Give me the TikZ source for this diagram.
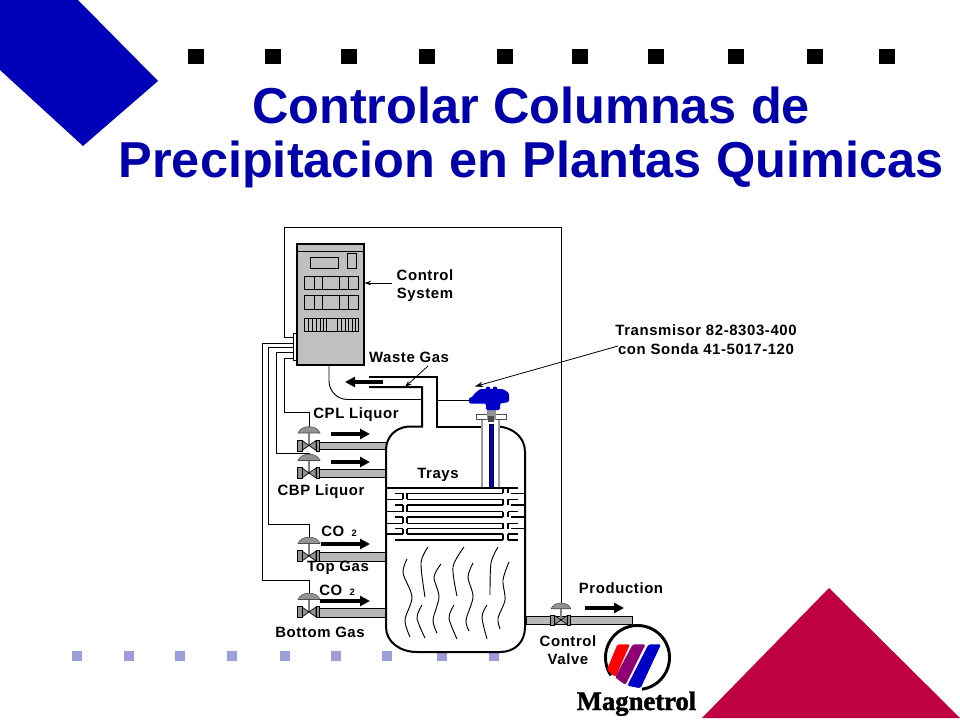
\documentclass[tikz,border=0pt]{standalone}
\usepackage{fontspec}
\setmainfont{Liberation Sans}
\newfontfamily\labfont[LetterSpace=4]{Liberation Sans}
\newfontfamily\logofont[BoldFeatures={FakeBold=1.6}]{Liberation Serif}
\usetikzlibrary{arrows.meta}
\definecolor{titleblue}{RGB}{0,0,170}
\definecolor{cornerblue}{RGB}{0,0,185}
\definecolor{cornerred}{RGB}{191,0,65}
\definecolor{dotblue}{RGB}{156,156,216}
\definecolor{pipegray}{RGB}{184,184,184}
\definecolor{cabgray}{RGB}{192,192,192}
\definecolor{headblue}{RGB}{0,0,200}
\tikzset{
  x=0.75pt,y=-0.75pt,
  thin line/.style={line width=0.7pt,black},
  wall/.style={line width=1.5pt,black},
  lab/.style={font=\labfont\fontsize{11.2}{12}\selectfont\bfseries,inner sep=0pt,text=black},
  titletext/.style={font=\fontsize{37.85}{40}\selectfont\bfseries,inner sep=0pt,text=titleblue,anchor=base},
  flow/.style={line width=3pt,-{Triangle[length=7.5pt,width=7.5pt]}},
  pipe/.style={draw=black,line width=0.5pt,fill=pipegray},
  tray/.style={line width=0.8pt,black},
  wave/.style={line width=0.7pt,black},
  pics/ctlvalve/.style={code={
    \draw[line width=1.5pt,pipegray!70!black] (0,-13) -- (0,0);
    \filldraw[fill=pipegray!80!black,draw=black!70,line width=0.4pt] (-11,-12.5) .. controls (-8,-21) and (8,-21) .. (11,-12.5) -- cycle;
    \filldraw[fill=pipegray!80!black,draw=black,line width=0.5pt] (-7,-5) -- (0,0) -- (-7,5) -- cycle (7,-5) -- (0,0) -- (7,5) -- cycle;
    \filldraw[fill=pipegray!80!black,draw=black,line width=0.5pt] (-12,-5.5) rectangle (-7,5.5) (7,-5.5) rectangle (10.5,5.5);
  }},
}
\begin{document}
\begin{tikzpicture}
\useasboundingbox (0,0) rectangle (960,720);
\fill[white] (0,0) rectangle (960,720);
% corners
\fill[cornerblue] (0,0) -- (78,0) -- (158,81) -- (83,146) -- (0,70) -- cycle;
\fill[cornerred] (702,718) -- (829,588) -- (960,718) -- cycle;
% black squares
\foreach \px in {196,273,349,427,505,580,656,736,815,887}
  \fill[black] (\px-8,49) rectangle (\px+8,64);
% pale squares
\foreach \px in {77,129,180,232,285,336,387,442,494}
  \fill[dotblue] (\px-5,651) rectangle (\px+5,661);
% title
\node[titletext] (t1) at (531,124) {Controlar Columnas de};
\node[titletext] (t2) at (531,178) {Precipitacion en Plantas Quimicas};

% valve anchors
\coordinate (v1) at (309,445.5);
\coordinate (v2) at (309,473);
\coordinate (v3) at (309,556);
\coordinate (v4) at (309,612);
\coordinate (v5) at (561,620);

% pipes
\filldraw[pipe] (319,442) rectangle (386,449.5);
\filldraw[pipe] (319,469) rectangle (386,477);
\filldraw[pipe] (319,552) rectangle (386,561);
\filldraw[pipe] (319,608) rectangle (386,617);
\filldraw[pipe] (526,616.5) rectangle (632,624.5);

% wires
\draw[thin line] (293,343) coordinate (w4) -- (262,343) -- (262,580) -- (309,580) -- (v4);
\draw[thin line] (293,347) coordinate (w3) -- (268,347) -- (268,524) -- (309,524) -- (v3);
\draw[thin line] (293,352) coordinate (w2) -- (276,352) -- (276,453) -- (309,453) -- (v2);
\draw[thin line] (293,358) coordinate (w1) -- (284,358) -- (284,412) -- (309,412) -- (v1);
\draw[thin line] (293,337) coordinate (loop) -- (284,337) -- (284,227) -- (561,227) -- (v5);

% valves
\pic at (v1) {ctlvalve};
\pic at (v2) {ctlvalve};
\pic at (v3) {ctlvalve};
\pic at (v4) {ctlvalve};
\pic[scale=0.9] at (v5) {ctlvalve};

% cabinet
\filldraw[fill=white,draw=black,line width=0.6pt] (293,333) rectangle (298,360);
\node[draw=black,line width=1.5pt,fill=cabgray,minimum width=50pt,minimum height=90.5pt,inner sep=0pt] (cab) at (330.5,304.5) {};
\draw[line width=0.7pt] (297,251) -- (364,251);
\draw[line width=0.7pt] (310,257) rectangle (338,268);
\draw[line width=0.7pt] (347,253) rectangle (356,268);
\foreach \ya/\yb in {276/289,295/309}{
  \draw[line width=0.7pt] (304,\ya) rectangle (358,\yb);
  \foreach \px in {314,322,339,348} \draw[line width=0.7pt] (\px,\ya) -- (\px,\yb);
}
\draw[line width=0.7pt] (304,318) rectangle (358,331);
\foreach \px in {308,312,316,320,323,326,337,341,345,348,352,355} \draw[line width=0.6pt] (\px,318) -- (\px,331);

% line from cabinet to transmitter
\draw[thin line,rounded corners=14pt] (cab.south -| 329,0) -- (329,399.5) -- (422,399.5);
\coordinate (txin) at (469,400);
\draw[thin line] (437,400) -- (txin);

% vessel and stack
\draw[wall] (369,387) -- (422,387) -- (422,426.5) -- (408,426.5) .. controls (395,428) and (386,437) .. (386,450)
  -- (386,627) .. controls (386,642) and (400,652) .. (417,652) -- (500,652)
  .. controls (515,652) and (525,642) .. (525,627) -- (525,452) .. controls (525,437) and (513,428) .. (499,426.5);
\draw[wall] (369,377) -- (437,377) -- (437,426.5) -- (482,426.5);

% nozzle
\draw[line width=1.5pt,pipegray!85!black] (482,419) -- (482,488);
\draw[line width=1.5pt,pipegray!85!black] (499,419) -- (499,488);
\filldraw[fill=white,draw=black!70,line width=0.6pt] (476,414) rectangle (506,419.5);
\filldraw[fill=headblue,draw=black,line width=0.3pt] (489,424) rectangle (493.5,488);
\fill[pipegray!80!black] (486.5,409) rectangle (495.5,420);
\fill[black!70] (488,416) rectangle (494,421.5);

% transmitter head
\node[inner sep=0pt,minimum size=0pt] (tx) at (489,398) {};
\fill[headblue,rounded corners=1pt] (473,397) -- (473,395) -- (480,389) -- (503,389) -- (509,393) -- (509,402) -- (500,403.5) -- (500,410) -- (486,410) -- (486,403.5) -- (469,403.5) -- (469,397.5) -- cycle;
\fill[headblue] (488,389) circle[radius=2.5] (495,389) circle[radius=2.5];

% trays
\draw[tray] (386,488) -- (518,488);
\foreach \py in {493.3,505,517,528.5}{
  \draw[tray] (395,\py) -- (403,\py) (407,\py) -- (503,\py) (511,\py) -- (525,\py);
}
\foreach \py in {499.3,511.7,523.3,534}{
  \draw[tray] (386,\py) -- (403,\py) (407,\py) -- (503,\py) (508,\py) -- (518,\py);
}
\draw[tray] (395,540) -- (503,540) (508,540) -- (518,540);
\foreach \ya/\yb in {493.3/499.3,505/511.7,517/523.3,528.5/534}{
  \draw[tray] (403,\ya) -- (403,\yb) (407,\ya) -- (407,\yb);
}
\foreach \ya/\yb in {488/493.3,499.3/505,511.7/517,523.3/528.5,534/540}{
  \draw[tray] (503,\ya) -- (503,\yb) (508,\ya) -- (508,\yb);
}

% waves
\draw[wave] plot[smooth] coordinates {(407,559)(403,573)(412,597)(405,620)(410,637)};
\draw[wave] plot[smooth] coordinates {(428,547)(421,563)(425,597)};
\draw[wave] plot[smooth] coordinates {(422,605)(417,618)(425,638)};
\draw[wave] plot[smooth] coordinates {(441,564)(434,577)(439,597)(433,620)(437,633)};
\draw[wave] plot[smooth] coordinates {(464,547)(453,567)(457,596)};
\draw[wave] plot[smooth] coordinates {(454,605)(449,618)(457,639)};
\draw[wave] plot[smooth] coordinates {(473,563)(468,577)(473,597)(466,620)(469,631)};
\draw[wave] plot[smooth] coordinates {(498,547)(491,563)(490,595)};
\draw[wave] plot[smooth] coordinates {(487,605)(482,617)(487,639)};
\draw[wave] plot[smooth] coordinates {(509,562)(503,580)(505,600)(498,618)(500,629)};

% flow arrows
\draw[flow] (331,434) -- (370,434);
\draw[flow] (331,462) -- (370,462);
\draw[flow] (321,544) -- (370,544);
\draw[flow] (320,601) -- (370,601);
\draw[flow] (585,608) -- (624,608);
\draw[flow] (383,382) -- (345,382);

% labels
\node[lab] (ctl) at (425,275) {Control};
\node[lab] (sys) at (425,295) {System};
\node[lab] (waste) at (409,357) {Waste Gas};
\node[lab] (cpl) at (356,415) {CPL Liquor};
\node[lab] (cbp) at (321,492) {CBP Liquor};
\node[lab] (trays) at (438,475) {Trays};
\node[lab] (co1) at (339,531) {CO\, {\fontsize{7}{8}\selectfont 2}};
\node[lab] (top) at (338,568) {Top Gas};
\node[lab] (co2) at (337,590) {CO\, {\fontsize{7}{8}\selectfont 2}};
\node[lab] (bot) at (320,632) {Bottom Gas};
\node[lab] (prod) at (621,588) {Production};
\node[lab] (cv1) at (568,641) {Control};
\node[lab] (cv2) at (568,659) {Valve};
\node[lab] (tm1) at (706,330) {Transmisor 82-8303-400};
\node[lab] (tm2) at (706,349) {con Sonda 41-5017-120};

% pointers
\coordinate (cabR) at (364.5,283);
\draw[line width=0.6pt,-{Stealth[length=5pt,width=3.5pt]}] (392,283) -- (cabR);
\coordinate (wasteT) at (428,366);
\coordinate (wasteH) at (405,387);
\draw[line width=0.6pt,-{Stealth[length=5pt,width=3.5pt]}] (wasteT) -- (wasteH);
\coordinate (tmT) at (618,346);
\coordinate (tmH) at (475,386.5);
\draw[line width=0.6pt,-{Stealth[length=6pt,width=4pt]}] (tmT) -- (tmH);

% logo
\draw[line width=2.2pt,black] plot[domain=-82:214,samples=80,smooth] ({637.5+32*cos(\x)},{657.5-32*sin(\x)});
\fill[red,rounded corners=1.2pt] (617.5,644.3) -- (630,644.3) -- (615.5,677) -- (606.7,670) -- cycle;
\fill[violet!90!red,rounded corners=1.2pt] (632.8,644.3) -- (645.5,644.3) -- (625.5,685) -- (615,677.3) -- cycle;
\fill[headblue,rounded corners=1.2pt] (648.5,644.3) -- (661,644.3) -- (640.5,688.3) -- (627.3,685.7) -- cycle;
\node[font=\logofont\bfseries\fontsize{20}{22}\selectfont,inner sep=0pt,text=black,anchor=base] (logo) at (636.5,710) {Magnetrol};
\end{tikzpicture}
\end{document}
